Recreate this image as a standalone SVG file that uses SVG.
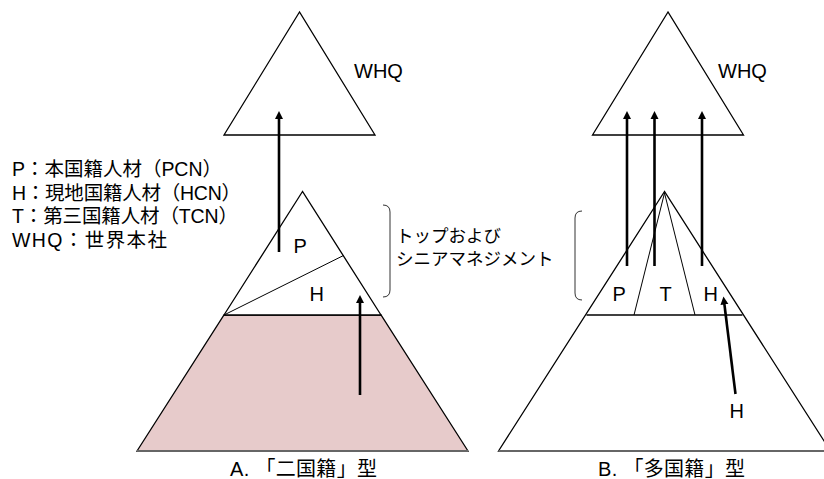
<svg xmlns="http://www.w3.org/2000/svg" width="824" height="479" viewBox="0 0 824 479">
<defs>
<style>
.tri{fill:#fff;stroke:#000;stroke-width:1.3}
.thin{fill:none;stroke:#000;stroke-width:1}
.base{fill:none;stroke:#666;stroke-width:2}
.arr{fill:none;stroke:#000;stroke-width:2.6}
.br{fill:none;stroke:#333;stroke-width:1}
text{font-family:"Liberation Sans","Noto Sans CJK JP",sans-serif;font-size:20px;fill:#000}
.lg{font-size:19.5px}
.jp{font-size:17.5px}
</style>
<marker id="ah" markerUnits="userSpaceOnUse" markerWidth="10" markerHeight="10" viewBox="0 -5 10 10" refX="1" refY="0" orient="auto">
<path d="M0,-4 L8,0 L0,4 z" fill="#000"/>
</marker>
</defs>
<g id="legend">
<text class="lg" x="12" y="176" textLength="210" lengthAdjust="spacing">P：本国籍人材（PCN）</text>
<text class="lg" x="12" y="200" textLength="229" lengthAdjust="spacing">H：現地国籍人材（HCN）</text>
<text class="lg" x="12" y="223" textLength="226" lengthAdjust="spacing">T：第三国籍人材（TCN）</text>
<text class="lg" x="12" y="247" textLength="155" lengthAdjust="spacing">WHQ：世界本社</text>
</g>
<g id="whqA">
<polygon class="tri" points="299.5,12 224,135 375,135"/>
<text x="354" y="78">WHQ</text>
</g>
<g id="pyramidA">
<polygon points="224,315 381,315 468,451 137,451" fill="#E7CBCB" stroke="#000" stroke-width="1.3"/>
<line class="base" x1="137" y1="451" x2="468" y2="451"/>
<polygon class="tri" points="302.5,191.5 224,315 381,315"/>
<line class="thin" x1="224" y1="315" x2="343.5" y2="255.5"/>
<text x="293.5" y="253">P</text>
<text x="309.5" y="301">H</text>
<text x="230" y="476" textLength="147" lengthAdjust="spacing">A.  「二国籍」型</text>
</g>
<g id="braceA">
<path class="br" d="M383,205 Q390,205 390,212 V290 Q390,297 383,297"/>
<text class="jp" x="396" y="242">トップおよび</text>
<text class="jp" x="396" y="265">シニアマネジメント</text>
</g>
<g id="whqB">
<polygon class="tri" points="668,12 592.5,135 743.5,135"/>
<text x="718" y="78">WHQ</text>
</g>
<g id="pyramidB">
<polygon class="tri" points="664.5,191.5 498.5,451 830.5,451"/>
<line class="base" x1="498.5" y1="451" x2="830" y2="451"/>
<line class="tri" x1="586.5" y1="315" x2="742.5" y2="315"/>
<line class="thin" x1="664.5" y1="193" x2="634" y2="315"/>
<line class="thin" x1="664.5" y1="193" x2="695" y2="315"/>
<text x="612.5" y="301">P</text>
<text x="659.5" y="301">T</text>
<text x="703.5" y="301">H</text>
<text x="729.5" y="418">H</text>
<text x="598" y="476" textLength="147" lengthAdjust="spacing">B.  「多国籍」型</text>
</g>
<g id="braceB">
<path class="br" d="M582,211 Q575,211 575,218 V293 Q575,300 582,300"/>
</g>
<g id="connectors">
<line class="arr" x1="279" y1="252" x2="279" y2="118" marker-end="url(#ah)"/>
<line class="arr" x1="360" y1="395" x2="360" y2="302" marker-end="url(#ah)"/>
<line class="arr" x1="627" y1="266" x2="627" y2="118" marker-end="url(#ah)"/>
<line class="arr" x1="654.5" y1="266" x2="654.5" y2="118" marker-end="url(#ah)"/>
<line class="arr" x1="702" y1="266" x2="702" y2="118" marker-end="url(#ah)"/>
<line class="arr" x1="735.5" y1="394" x2="724.3" y2="303.5" marker-end="url(#ah)"/>
</g>
</svg>
